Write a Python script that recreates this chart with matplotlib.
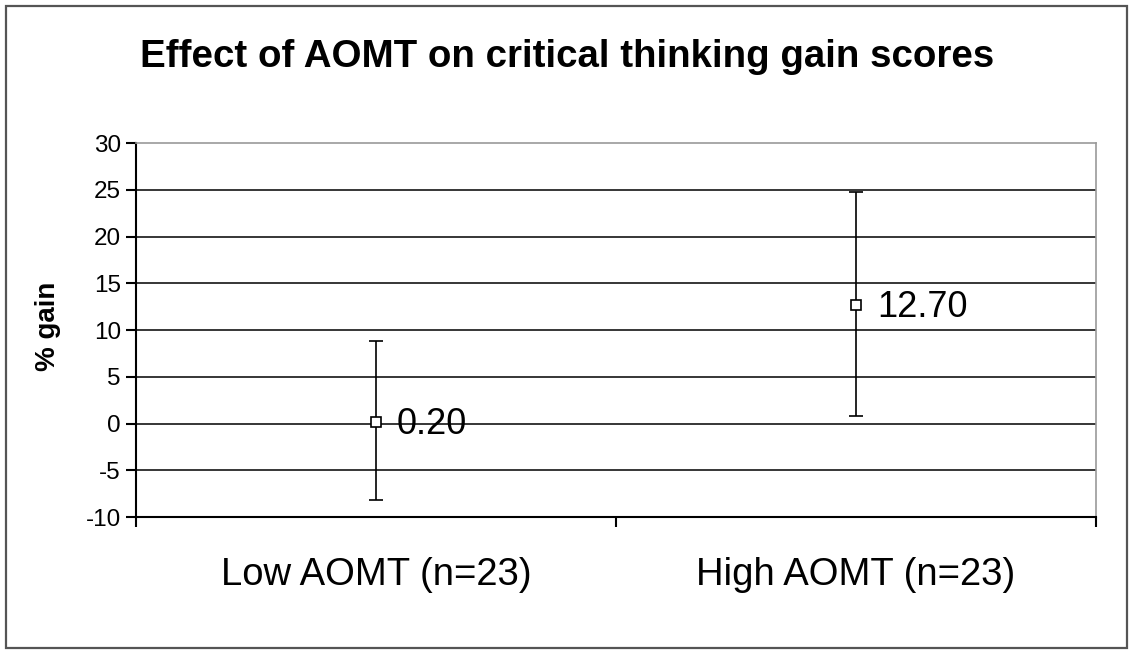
import matplotlib.pyplot as plt
from matplotlib.patches import Rectangle

plt.rcParams['font.family'] = ['Liberation Sans', 'DejaVu Sans']

# data
groups = ['Low AOMT (n=23)', 'High AOMT (n=23)']
means = [0.20, 12.70]
err_low = [8.4, 11.9]
err_high = [8.6, 12.1]
value_labels = ['0.20', '12.70']
yticks = [-10, -5, 0, 5, 10, 15, 20, 25, 30]

fig = plt.figure(figsize=(11.3, 6.51), dpi=100)
ax = fig.add_axes([0.1204, 0.2058, 0.8496, 0.5745])

xpos = [0.5, 1.5]
for yv in yticks[1:-1]:
    ax.axhline(yv, color='black', lw=1.1, zorder=1)

ax.errorbar(xpos, means, yerr=[err_low, err_high], fmt='s', ms=7,
            mfc='white', mec='black', mew=1.2, ecolor='black',
            elinewidth=1.2, capsize=5, capthick=2.2, zorder=3)

for x, m, lab in zip(xpos, means, value_labels):
    ax.annotate(lab, (x, m), xytext=(15, -2), textcoords='offset points',
                va='center', ha='left', fontsize=26)

ax.set_xlim(0, 2)
ax.set_ylim(-10, 30)
ax.set_yticks(yticks)
ax.set_yticklabels([str(v) for v in yticks], fontsize=17.5)
ax.set_xticks([0, 1, 2])
ax.set_xticklabels(['', '', ''])
ax.set_xticks(xpos, minor=True)
ax.set_xticklabels(groups, minor=True, fontsize=27.5)
ax.tick_params(axis='x', which='minor', length=0, pad=29)
ax.tick_params(axis='x', which='major', length=7, width=1.5, direction='out')
ax.tick_params(axis='y', length=7, width=1.5, direction='out', pad=4)

for s in ['left', 'bottom']:
    ax.spines[s].set_color('black')
    ax.spines[s].set_linewidth(1.5)
for s in ['top', 'right']:
    ax.spines[s].set_color('#999999')
    ax.spines[s].set_linewidth(1.2)

fig.text(0.0425, 0.498, '% gain', rotation=90, ha='center', va='center',
         fontsize=20, fontweight='bold')
fig.text(0.502, 0.913, 'Effect of AOMT on critical thinking gain scores',
         ha='center', va='center', fontsize=27.7, fontweight='bold')

fig.patches.append(Rectangle((6 / 1130, 3 / 651), 1121 / 1130, 642 / 651,
                             transform=fig.transFigure, fill=False,
                             edgecolor='#555555', lw=1.6))

fig.savefig('out.png', dpi=100)
